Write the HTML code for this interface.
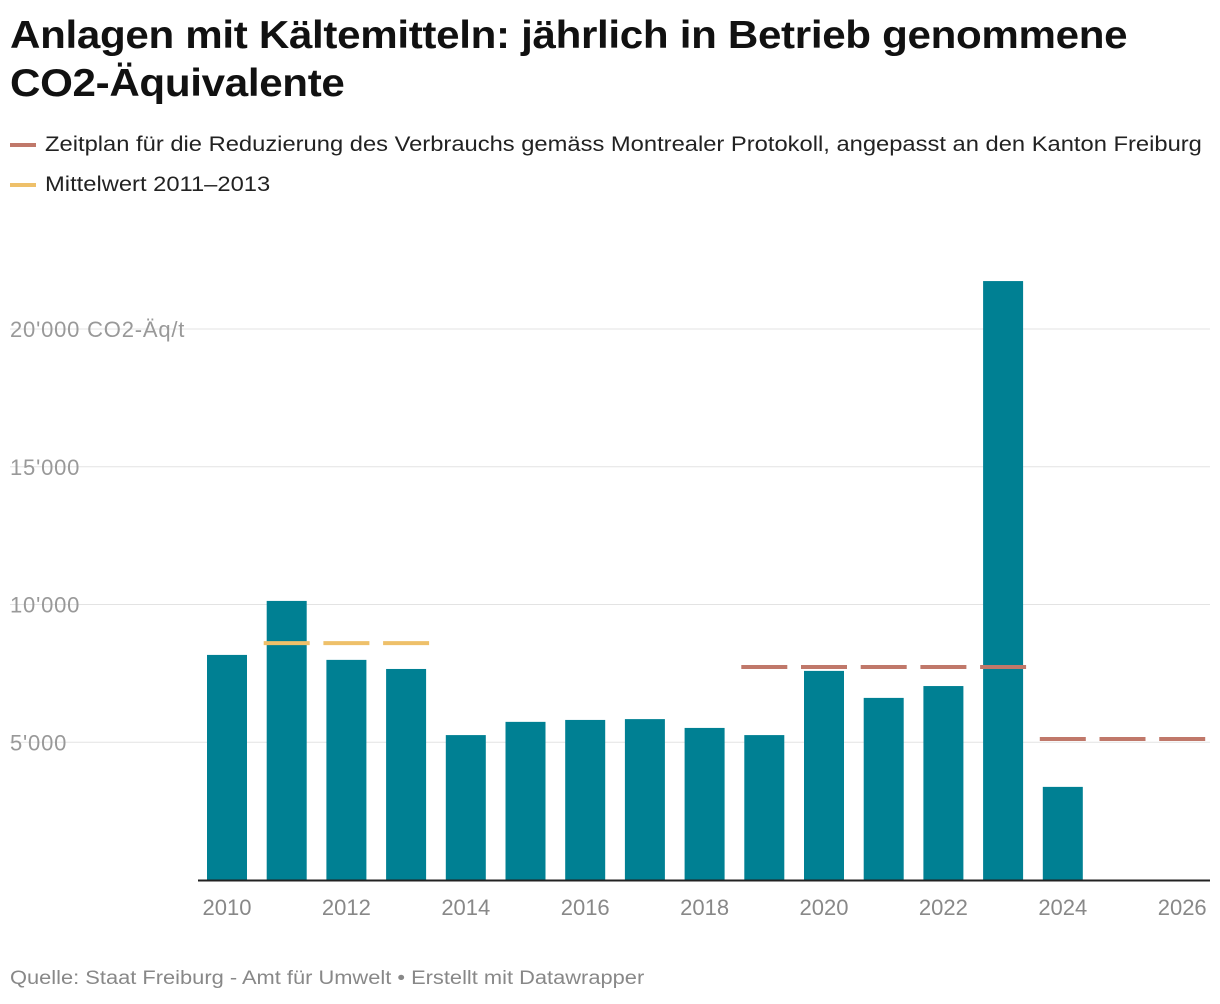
<!DOCTYPE html>
<html><head><meta charset="utf-8"><style>
body{margin:0;background:#fff;width:1220px;height:1004px;overflow:hidden;font-family:"Liberation Sans",sans-serif}
h1{position:absolute;left:10px;top:12px;margin:0;font-size:39px;line-height:48px;font-weight:bold;color:#111;letter-spacing:-0.3px;transform:scaleX(1.08);transform-origin:left top;white-space:nowrap}
.leg{position:absolute;left:10px;font-size:21px;color:#222;display:flex;align-items:center;white-space:nowrap;transform:scaleX(1.13);transform-origin:left center}
.leg span.sw{display:inline-block;width:23px;height:4px;margin-right:8px}
.src{position:absolute;left:10px;top:968px;font-size:19px;color:#888;white-space:nowrap;transform:scaleX(1.15);transform-origin:left top}
</style></head><body>
<h1>Anlagen mit Kältemitteln: jährlich in Betrieb genommene<br>CO2-Äquivalente</h1>
<div class="leg" style="top:133px"><span class="sw" style="background:#c0786a"></span>Zeitplan für die Reduzierung des Verbrauchs gemäss Montrealer Protokoll, angepasst an den Kanton Freiburg</div>
<div class="leg" style="top:173px"><span class="sw" style="background:#eec06a"></span>Mittelwert 2011–2013</div>
<svg id="chart" width="1220" height="1004" style="position:absolute;left:0;top:0"></svg>
<div class="src">Quelle: Staat Freiburg - Amt für Umwelt • Erstellt mit Datawrapper</div>
<script>
const years=[2010,2011,2012,2013,2014,2015,2016,2017,2018,2019,2020,2021,2022,2023,2024];
const values=[8170,10130,7990,7660,5260,5740,5810,5840,5520,5260,7590,6610,7040,21740,3380];
const meanYears=[2011,2012,2013];
const meanValue=8600;
const schedYears1=[2019,2020,2021,2022,2023];
const schedValue1=7730;
const schedYears2=[2024,2025,2026];
const schedValue2=5120;
const yTicks=[5000,10000,15000,20000];
const yTickLabels=["5'000","10'000","15'000","20'000 CO2-Äq/t"];
const xTicks=[2010,2012,2014,2016,2018,2020,2022,2024,2026];
const NS="http://www.w3.org/2000/svg";
const svg=document.getElementById('chart');
const x=y=>227+(y-2010)*59.7;
const yS=v=>880-v*0.02755;
function mk(t,a){const e=document.createElementNS(NS,t);for(const k in a)e.setAttribute(k,a[k]);svg.appendChild(e);return e;}
yTicks.forEach((t,i)=>{
 const l=mk('line',{x1:10,x2:1210,y1:yS(t),y2:yS(t),stroke:'#e3e3e3','stroke-width':1});
 
 
 const tx=mk('text',{x:10,y:yS(t)+8,fill:'#999','font-size':22,'letter-spacing':0.8,'font-family':'Liberation Sans, sans-serif'});
 tx.textContent=yTickLabels[i];
 
 
});
years.forEach((yr,i)=>{
 const r=mk('rect',{x:x(yr)-20,y:yS(values[i]),width:40,height:880-yS(values[i]),fill:'#008093'});
 
 
});
function dashes(ys,v,col,name){ys.forEach(yr=>{
 const l=mk('line',{x1:x(yr)-23,x2:x(yr)+23,y1:yS(v),y2:yS(v),stroke:col,'stroke-width':4});
 
 
});}
dashes(meanYears,meanValue,'#eec06a','mean-line');
dashes(schedYears1,schedValue1,'#c0786a','schedule-line');
dashes(schedYears2,schedValue2,'#c0786a','schedule-line');
const ax=mk('line',{x1:198,x2:1210,y1:880.5,y2:880.5,stroke:'#222','stroke-width':2});


xTicks.forEach(t=>{
 const tx=mk('text',{x:x(t),y:915,fill:'#888','font-size':22,'text-anchor':'middle','font-family':'Liberation Sans, sans-serif'});
 tx.textContent=t;
 
 
});
</script>
</body></html>
